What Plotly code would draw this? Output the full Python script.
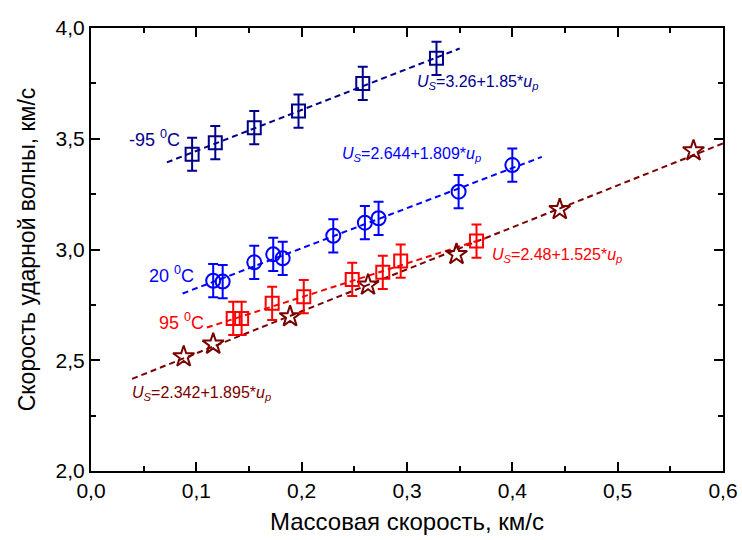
import plotly.graph_objects as go

# Hugoniot data: particle velocity u_p (km/s) vs shock velocity U_s (km/s)
up_m95 = [0.096, 0.118, 0.155, 0.197, 0.258, 0.328]
us_m95 = [3.430, 3.482, 3.550, 3.625, 3.750, 3.863]

up_20 = [0.116, 0.125, 0.155, 0.173, 0.182, 0.230, 0.260, 0.273, 0.349, 0.400]
us_20 = [2.859, 2.855, 2.942, 2.978, 2.960, 3.062, 3.121, 3.141, 3.261, 3.381]

up_95 = [0.135, 0.143, 0.172, 0.202, 0.248, 0.277, 0.294, 0.366]
us_95 = [2.689, 2.689, 2.757, 2.787, 2.865, 2.897, 2.948, 3.038]

up_ref = [0.088, 0.116, 0.189, 0.263, 0.347, 0.445, 0.572]
us_ref = [2.516, 2.573, 2.697, 2.840, 2.978, 3.181, 3.446]

err_us = 0.075

# linear fits U_s = c0 + s*u_p and the u_p range each fit line spans
fit_m95 = (3.26, 1.85, 0.072, 0.350)
fit_20 = (2.644, 1.809, 0.087, 0.428)
fit_95 = (2.48, 1.525, 0.110, 0.375)
fit_ref = (2.342, 1.895, 0.039, 0.600)

NAVY = "#00008B"
BLUE = "#0000FF"
RED = "#FF0000"
MAROON = "#7A0000"

fig = go.Figure()


def fit_line(fit, color):
    c0, s, x0, x1 = fit
    fig.add_trace(go.Scatter(
        x=[x0, x1], y=[c0 + s * x0, c0 + s * x1], mode="lines",
        line=dict(color=color, width=2, dash="6px,4px"),
        showlegend=False, hoverinfo="skip"))


def points(x, y, color, symbol, errors=True, size=13):
    fig.add_trace(go.Scatter(
        x=x, y=y, mode="markers",
        marker=dict(symbol=symbol, size=size, color=color,
                    line=dict(color=color, width=2)),
        error_y=dict(type="constant", value=err_us, color=color,
                     thickness=2, width=5, visible=errors),
        showlegend=False))


fit_line(fit_ref, MAROON)
fit_line(fit_95, RED)
fit_line(fit_20, BLUE)
fit_line(fit_m95, NAVY)

points(up_ref, us_ref, MAROON, "star-open", errors=False, size=16)
points(up_95, us_95, RED, "square-open")
points(up_20, us_20, BLUE, "circle-open", size=14)
points(up_m95, us_m95, NAVY, "square-open")

ann_font = "Liberation Sans, Arial, sans-serif"


def label(x, y, text, color, size=16):
    fig.add_annotation(x=x, y=y, text=text, showarrow=False,
                       xanchor="left", yanchor="middle",
                       font=dict(family=ann_font, size=size, color=color))


def eq(c0, s):
    return f"<i>U<sub>S</sub></i>=" + c0 + "+" + s + "*<i>u<sub>p</sub></i>"


label(0.034, 3.503, "-95 <sup>0</sup>C", NAVY, 18)
label(0.053, 2.885, "20 <sup>0</sup>C", BLUE, 18)
label(0.0627, 2.677, "95 <sup>0</sup>C", RED, 18)
label(0.3076, 3.756, eq("3.26", "1.85"), NAVY, 16)
label(0.2364, 3.427, eq("2.644", "1.809"), BLUE, 16)
label(0.379, 2.971, eq("2.48", "1.525"), RED, 16)
label(0.037, 2.352, eq("2.342", "1.895"), MAROON, 16)

axis_common = dict(
    showline=True, linecolor="black", linewidth=2, mirror="ticks",
    ticks="inside", ticklen=9, tickwidth=2, tickcolor="black",
    showgrid=False, zeroline=False, tickformat=".1f", automargin=False,
    tickfont=dict(family=ann_font, size=21, color="black"),
)

fig.update_xaxes(
    range=[0, 0.6], dtick=0.1, tick0=0,
    minor=dict(dtick=0.05, ticks="inside", ticklen=5, tickwidth=2,
               tickcolor="black"),
    title=dict(text="Массовая скорость, км/с", standoff=12,
               font=dict(family=ann_font, size=24, color="black")),
    **axis_common)
fig.update_yaxes(
    range=[2.0, 4.0], dtick=0.5, tick0=2.0,
    minor=dict(dtick=0.25, ticks="inside", ticklen=5, tickwidth=2,
               tickcolor="black"),
    title=dict(text="Скорость ударной волны, км/с", standoff=14,
               font=dict(family=ann_font, size=23, color="black")),
    **axis_common)

fig.update_layout(
    width=742, height=540,
    margin=dict(l=91, r=19, t=28, b=69),
    plot_bgcolor="white", paper_bgcolor="white",
    separators=", ",
    font=dict(family=ann_font),
)

fig.write_html("out.html")
